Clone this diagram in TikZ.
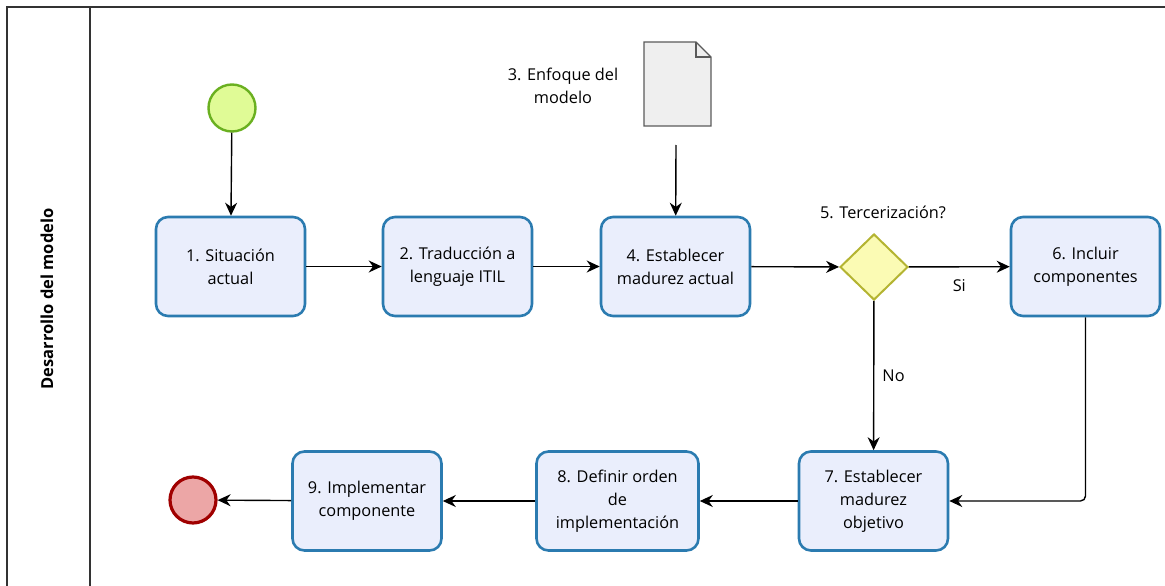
\documentclass[tikz,border=0pt]{standalone}
\usepackage{fontspec}
\setmainfont{Open Sans}
\usetikzlibrary{arrows.meta,shapes.geometric,calc}
\definecolor{taskfill}{RGB}{234,238,252}
\definecolor{taskdraw}{RGB}{43,123,176}
\definecolor{startfill}{RGB}{224,251,150}
\definecolor{startdraw}{RGB}{106,176,32}
\definecolor{endfill}{RGB}{236,166,166}
\definecolor{enddraw}{RGB}{160,0,0}
\definecolor{gwfill}{RGB}{251,251,180}
\definecolor{gwdraw}{RGB}{180,180,50}
\definecolor{docfill}{RGB}{239,239,239}
\definecolor{docdraw}{RGB}{90,90,90}
\begin{document}
\begin{tikzpicture}[x=1pt,y=-1pt,
  font=\fontsize{16.3}{23}\selectfont,
  task/.style={draw=taskdraw,fill=taskfill,line width=2.6pt,rounded corners=12pt,
    minimum width=149pt,minimum height=99pt,align=center,inner sep=2pt},
  flow/.style={-{Stealth[length=13pt,width=12pt]},line width=1.4pt,black},
  lbl/.style={align=center,inner sep=0pt}]
\useasboundingbox (0,0) rectangle (1165,586);
% pool / lane
\draw[line width=1.4pt,draw=black!80] (1165,7) -- (7,7) -- (7,590);
\draw[line width=1.4pt,draw=black!80] (90,7) -- (90,590);
\node[rotate=90,font=\fontsize{16.5}{17}\selectfont\bfseries] (lane) at (47,299) {Desarrollo del modelo};
% events
\node[circle,draw=startdraw,fill=startfill,line width=2.4pt,minimum size=47pt,inner sep=0pt] (start) at (232,108) {};
\node[circle,draw=enddraw,fill=endfill,line width=3.2pt,minimum size=46pt,inner sep=0pt] (end) at (193,500) {};
% tasks
\node[task] (t1) at (230.5,266.5) {1. Situación\\actual};
\node[task] (t2) at (457.5,266.5) {2. Traducción a\\lenguaje ITIL};
\node[task] (t4) at (675.5,266.5) {4. Establecer\\madurez actual};
\node[task] (t6) at (1085.5,266.5) {6. Incluir\\componentes};
\node[task] (t7) at (873.5,501) {7. Establecer\\madurez\\objetivo};
\node[task,minimum width=162pt] (t8) at (617.5,501) {8. Definir orden\\de\\implementación};
\node[task] (t9) at (367,501) {9. Implementar\\componente};
% gateway
\node[diamond,draw=gwdraw,fill=gwfill,line width=2pt,minimum width=68pt,minimum height=66pt,inner sep=0pt] (gw) at (874,267) {};
\node[lbl] (gwl) at (883,212) {5. Tercerización?};
% document
\draw[draw=docdraw,fill=docfill,line width=1.2pt]
  (644,42) -- (696,42) -- (711,57) -- (711,126) -- (644,126) -- cycle;
\draw[draw=docdraw,line width=1.2pt] (696,42) -- (696,57) -- (711,57);
\node[lbl] (docl) at (563,86) {3. Enfoque del\\modelo};
\coordinate (docend) at (676,145);
% flows
\draw[flow] (start) -- (t1);
\draw[flow] (t1) -- (t2);
\draw[flow] (t2) -- (t4);
\draw[flow] (docend) -- (t4);
\draw[flow] (t4) -- (gw);
\draw[flow] (gw) -- node[lbl,below,yshift=-12pt] (si) {Si} (t6);
\draw[flow] (gw) -- node[lbl,right,xshift=8pt] (no) {No} (t7);
\draw[flow,rounded corners=5pt] (t6.south) |- (t7.east);
\draw[flow] (t7) -- (t8);
\draw[flow] (t8) -- (t9);
\draw[flow] (t9) -- (end);
\end{tikzpicture}
\end{document}
